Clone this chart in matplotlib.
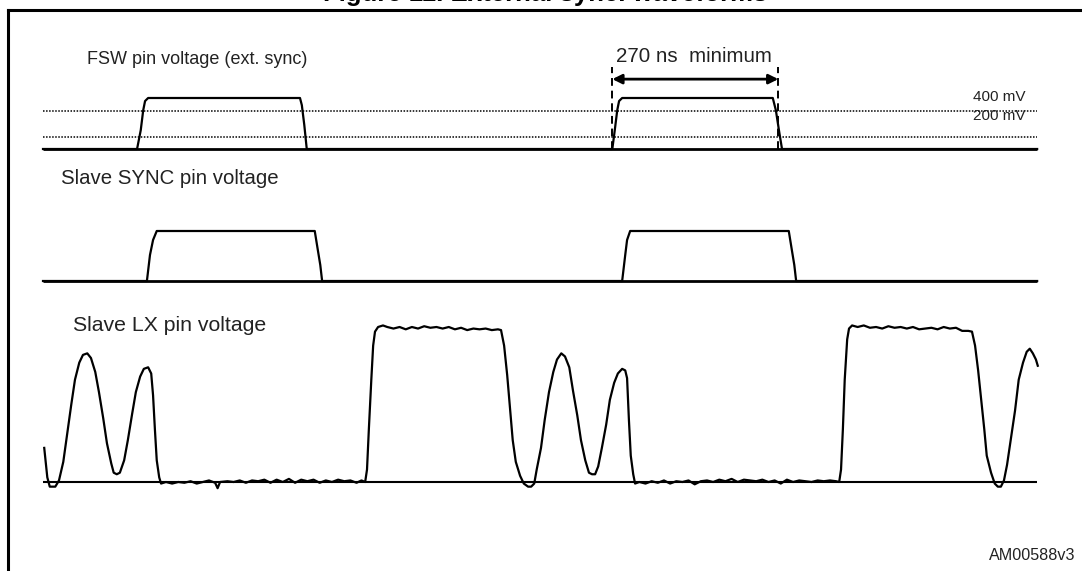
import matplotlib.pyplot as plt
from matplotlib.lines import Line2D

plt.rcParams['font.family'] = ['Liberation Sans', 'DejaVu Sans']

# time axis in ns, levels normalised (0 = baseline, 1 = high)
trace_end = 1617
min_pulse_start = 926
min_pulse_width = 270
level_400mv = 0.75
level_200mv = 0.24

fsw_t = [0, 153, 159, 163, 166, 171, 418, 421, 425, 429,
         926, 930, 934, 937, 942, 1187, 1192, 1197, 1202, 1617]
fsw_level = [0, 0, 0.37, 0.76, 0.94, 1, 1, 0.86, 0.47, 0,
             0, 0.37, 0.76, 0.94, 1, 1, 0.76, 0.37, 0, 0]

sync_t = [0, 169, 174, 179, 185, 442, 447, 451, 454,
          942, 947, 950, 955, 1213, 1218, 1222, 1225, 1617]
sync_level = [0, 0, 0.52, 0.82, 1, 1, 0.62, 0.32, 0,
              0, 0.52, 0.82, 1, 1, 0.62, 0.32, 0, 0]

lx_t = [2, 7, 11, 20, 26, 33, 39, 46, 52, 59, 65, 72, 78, 85, 91, 98, 104, 111, 115, 120,
        125, 132, 138, 145, 151, 158, 164, 171, 176, 179, 182, 185, 189, 192,
        200, 210, 220, 230, 240, 250, 260, 270, 280, 284, 288, 300, 310, 320, 330, 340,
        350, 360, 370, 380, 390, 400, 410, 420, 430, 440, 450, 460, 470, 480, 490, 500,
        510, 518, 524,
        527, 530, 534, 537, 540, 545, 553,
        560, 570, 580, 590, 600, 610, 620, 630, 640, 650, 660, 670, 680, 690, 700, 710,
        720, 730, 740, 745,
        750, 755, 760, 764, 769, 776, 782, 789, 794, 799, 803, 810, 816, 823, 830, 836,
        843, 849, 856, 862, 869, 875, 882, 888, 893, 898, 903, 909, 916, 922, 929, 935,
        942, 947, 950, 953, 956, 960, 963,
        970, 980, 990, 1000, 1010, 1020, 1030, 1040, 1050, 1060, 1070, 1080, 1090, 1100,
        1110, 1120, 1130, 1140, 1150, 1160, 1170, 1180, 1190, 1200, 1210, 1220, 1230,
        1240, 1250, 1260, 1270, 1280, 1290, 1295,
        1298, 1301, 1304, 1308, 1311, 1316,
        1325, 1335, 1345, 1355, 1365, 1375, 1385, 1395, 1405, 1415, 1425, 1435, 1445,
        1455, 1465, 1475, 1485, 1495, 1505, 1511,
        1516, 1521, 1526, 1531, 1535, 1542, 1548, 1553, 1558, 1563, 1568, 1574, 1581,
        1587, 1594, 1600, 1605, 1610, 1615, 1618]
lx_level = [0.22, 0.03, -0.03, -0.03, 0.01, 0.13, 0.30, 0.50, 0.66, 0.77, 0.82, 0.83, 0.80,
            0.71, 0.58, 0.41, 0.25, 0.12, 0.06, 0.05,
            0.06, 0.14, 0.27, 0.44, 0.58, 0.68, 0.73, 0.74, 0.70, 0.56, 0.34, 0.14, 0.03, -0.01,
            0.0, -0.01, 0.0, -0.005, 0.005, -0.01, 0.0, 0.01, -0.005, -0.04, 0.0, 0.005, 0.0,
            0.01, -0.005, 0.01,
            0.005, 0.015, -0.005, 0.015, 0.0, 0.02, -0.005, 0.015, 0.005, 0.015, -0.005, 0.01,
            0.0, 0.015, 0.005, 0.01,
            -0.005, 0.01, 0.0,
            0.08, 0.34, 0.66, 0.88, 0.97, 1.0, 1.01,
            1.0, 0.99, 1.0, 0.985, 1.0, 0.99, 1.005, 0.995, 1.0, 0.99, 1.0, 0.985, 0.995, 0.98,
            0.99, 0.985, 0.99, 0.98, 0.985, 0.98,
            0.88, 0.69, 0.46, 0.27, 0.13, 0.04, -0.01, -0.03, -0.03, -0.01, 0.08, 0.22, 0.40,
            0.58, 0.71, 0.79,
            0.83, 0.81, 0.74, 0.59, 0.43, 0.27, 0.14, 0.06, 0.05, 0.05, 0.10, 0.22, 0.37, 0.53,
            0.64, 0.70,
            0.73, 0.72, 0.67, 0.40, 0.17, 0.05, -0.01,
            0.0, -0.01, 0.005, -0.005, 0.01, -0.01, 0.005, 0.0, 0.01, -0.015, 0.005, 0.01, 0.0,
            0.015, 0.005, 0.02, 0.0, 0.015, 0.01, 0.005, 0.015, 0.0, 0.01, -0.01, 0.015, 0.0,
            0.01, 0.005, 0.0, 0.01, 0.005, 0.01, 0.005, 0.0,
            0.08, 0.34, 0.66, 0.92, 0.99, 1.01,
            1.0, 1.01, 0.995, 1.0, 0.99, 1.005, 0.995, 1.0, 0.99, 1.0, 0.985, 0.99, 0.995,
            0.985, 1.0, 0.99, 0.995, 0.975, 0.975, 0.97,
            0.88, 0.72, 0.53, 0.34, 0.17, 0.06, -0.01, -0.03, -0.03, 0.01, 0.11, 0.27, 0.46,
            0.66, 0.77, 0.84, 0.86, 0.83, 0.79, 0.75]

W, H = 1082, 571
NS_PER_PX = 270 / 166
X0 = 43


def trace_axes(base_px, unit_px, lo, hi):
    # place an axes so that level 0 sits at base_px and one unit is unit_px tall
    bottom = base_px - lo * unit_px
    top = base_px - hi * unit_px
    ax = fig.add_axes([0, 1 - bottom / H, 1, (bottom - top) / H])
    ax.set_xlim(-X0 * NS_PER_PX, (W - X0) * NS_PER_PX)
    ax.set_ylim(lo, hi)
    ax.axis('off')
    return ax


fig = plt.figure(figsize=(W / 100, H / 100), dpi=100)

# frame and clipped title (only its lower edge shows in the reference)
fig.add_artist(Line2D([8 / W, 1], [1 - 10 / H] * 2, color='black', lw=2.2))
fig.add_artist(Line2D([8 / W] * 2, [0, 1 - 10 / H], color='black', lw=2.2))
fig.text(0.504, 1 - 1.5 / H, 'Figure 11. External sync. waveforms', ha='center',
         va='baseline', fontsize=18.5, fontweight='bold')

# FSW pin voltage
ax1 = trace_axes(149, 51, -1.0, 2.0)
ax1.hlines([level_400mv, level_200mv], 0, trace_end, colors='black', lw=1.1,
           linestyles=[(0, (1, 1))])
ax1.plot(fsw_t, fsw_level, color='black', lw=1.6)
ax1.hlines(0, 0, trace_end, colors='black', lw=2.0)
ax1.vlines([min_pulse_start, min_pulse_start + min_pulse_width], 0, 1.61, colors='black',
           lw=1.4, linestyles=[(0, (4, 2.5))])
ax1.annotate('', xy=(min_pulse_start, 1.37), xytext=(min_pulse_start + min_pulse_width, 1.37),
             arrowprops=dict(arrowstyle='<|-|>', color='black', lw=2, mutation_scale=14,
                             shrinkA=0, shrinkB=0))
ax1.text(min_pulse_start + min_pulse_width / 2 - 2, 1.82, '270 ns  minimum', ha='center',
         va='center', fontsize=14.8, color='#222222')
ax1.text(72, 1.75, 'FSW pin voltage (ext. sync)', ha='left', va='center', fontsize=13,
         color='#222222')
ax1.text(1512, 1.02, '400 mV', ha='left', va='center', fontsize=11, color='#222222')
ax1.text(1512, 0.65, '200 mV', ha='left', va='center', fontsize=11, color='#222222')

# Slave SYNC pin voltage
ax2 = trace_axes(281, 50, -1.2, 2.2)
ax2.plot(sync_t, sync_level, color='black', lw=1.6)
ax2.hlines(0, 0, trace_end, colors='black', lw=2.0)
ax2.text(30, 2.06, 'Slave SYNC pin voltage', ha='left', va='center', fontsize=14.7,
         color='#222222')

# Slave LX pin voltage
ax3 = trace_axes(482, 155, -0.5, 1.2)
ax3.hlines(0, 0, trace_end, colors='black', lw=1.5)
ax3.plot(lx_t, lx_level, color='black', lw=1.6)
ax3.text(49, 1.01, 'Slave LX pin voltage', ha='left', va='center', fontsize=15.3,
         color='#222222')

fig.text(1 - 7 / W, 1 - 555 / H, 'AM00588v3', ha='right', va='center', fontsize=11.6,
         color='#222222')

fig.savefig('out.png', dpi=100)
